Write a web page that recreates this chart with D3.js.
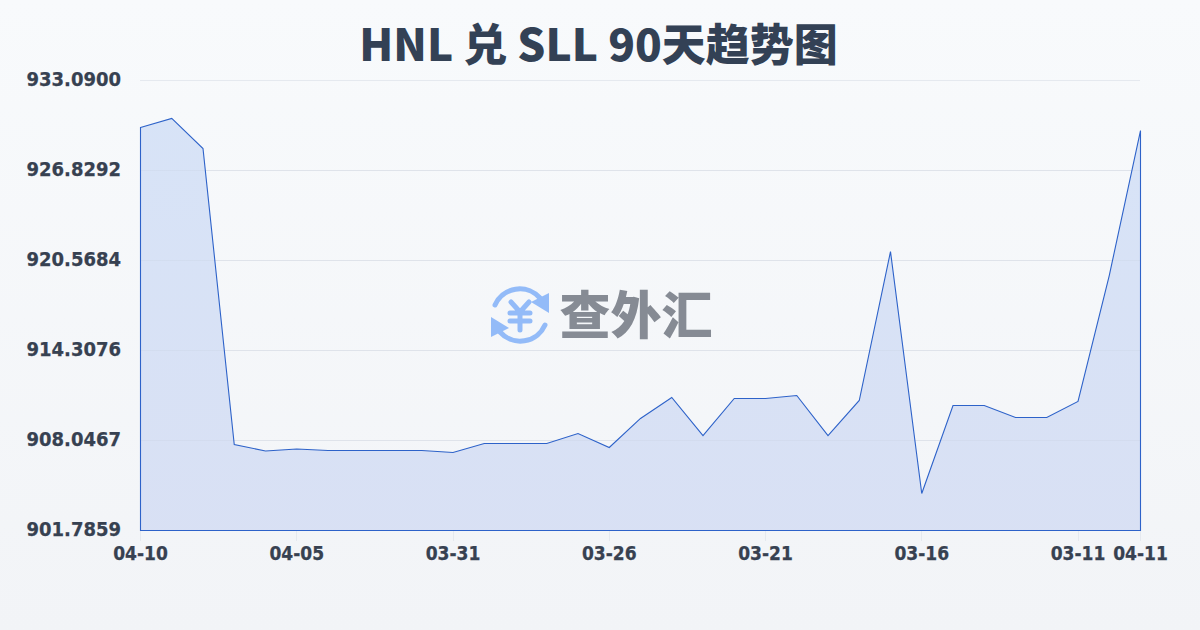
<!DOCTYPE html>
<html><head><meta charset="utf-8">
<script src="https://cdnjs.cloudflare.com/ajax/libs/d3/7.8.5/d3.min.js"></script>
<style>html,body{margin:0;padding:0;background:#f8fafc}svg{display:block}</style>
</head><body><svg id="c" width="1200" height="630"></svg>
<script>
const titleText = "HNL 兑 SLL 90天趋势图";
const watermarkText = "查外汇";
const values = [929.82,930.45,928.36,907.77,907.32,907.46,907.35,907.35,907.35,907.35,907.21,907.84,907.84,907.84,908.53,907.56,909.58,911.04,908.39,910.97,910.97,911.18,908.39,910.83,921.19,904.36,910.48,910.48,909.65,909.65,910.76,919.52,929.61];
const xTickIndex = [0,5,10,15,20,25,30,32];
const xTickLabels = ["04-10","04-05","03-31","03-26","03-21","03-16","03-11","04-11"];
const yTicks = [901.7859,908.0467,914.3076,920.5684,926.8292,933.09];
const yTickLabels = ["901.7859","908.0467","914.3076","920.5684","926.8292","933.0900"];

const svg = d3.select("#c");
const defs = svg.append("defs");
const bg = defs.append("linearGradient").attr("id","bg").attr("x1",0).attr("y1",0).attr("x2",0).attr("y2",1);
bg.append("stop").attr("offset",0).attr("stop-color","#f8fafc");
bg.append("stop").attr("offset",1).attr("stop-color","#f2f4f7");
const ag = defs.append("linearGradient").attr("id","ag").attr("gradientUnits","userSpaceOnUse").attr("x1",0).attr("y1",118).attr("x2",0).attr("y2",530);
ag.append("stop").attr("offset",0).attr("stop-color","#d7e3f7");
ag.append("stop").attr("offset",1).attr("stop-color","#d8e0f4");
svg.append("rect").attr("width",1200).attr("height",630).attr("fill","url(#bg)");

const x = d3.scaleLinear().domain([0,values.length-1]).range([140.5,1140.5]);
const y = d3.scaleLinear().domain([901.7859,933.09]).range([530.5,80.5]);
const ink = "#374151";
const font = "'DejaVu Sans Condensed','DejaVu Sans',sans-serif";

svg.append("g").selectAll("line").data(yTicks).join("line")
  .attr("x1",140).attr("x2",1140).attr("y1",d=>Math.floor(y(d))+.5).attr("y2",d=>Math.floor(y(d))+.5)
  .attr("stroke","#e5e9ef").attr("stroke-width",1);

const idx = d3.range(values.length);
svg.append("path").datum(idx)
  .attr("d",d3.area().x(i=>x(i)).y0(y(901.7859)).y1(i=>y(values[i])))
  .attr("fill","url(#ag)").attr("fill-opacity",.98);
svg.append("g").selectAll("line").data(yTicks.slice(1,-1)).join("line")
  .attr("x1",140).attr("x2",1140).attr("y1",d=>Math.floor(y(d))+.5).attr("y2",d=>Math.floor(y(d))+.5)
  .attr("stroke","#94a3b8").attr("stroke-opacity",.08);
svg.append("path").datum(idx)
  .attr("d",d3.line().x(i=>x(i)).y(i=>y(values[i]))(idx)+`L${x(values.length-1)},${y(901.7859)}L${x(0)},${y(901.7859)}Z`)
  .attr("fill","none").attr("stroke","#2d62c9").attr("stroke-width",1.1);

svg.append("g").selectAll("line").data(xTickIndex).join("line")
  .attr("x1",i=>Math.floor(x(i))+.5).attr("x2",i=>Math.floor(x(i))+.5).attr("y1",531).attr("y2",541)
  .attr("stroke","#e5e9ef");
svg.append("g").selectAll("text").data(xTickIndex).join("text")
  .attr("x",i=>x(i)).attr("y",560).attr("text-anchor","middle")
  .attr("font-family",font).attr("font-weight",700).attr("font-size",19).attr("fill",ink)
  .attr("stroke",ink).attr("stroke-width",.25)
  .text((d,i)=>xTickLabels[i]);
svg.append("g").selectAll("text").data(yTicks).join("text")
  .attr("x",121).attr("y",d=>y(d)+5.5).attr("text-anchor","end")
  .attr("font-family",font).attr("font-weight",700).attr("font-size",20).attr("fill",ink)
  .attr("stroke",ink).attr("stroke-width",.25)
  .text((d,i)=>yTickLabels[i]);

svg.append("text").attr("x",598.5).attr("y",61).attr("text-anchor","middle")
  .attr("font-family","'Noto Sans CJK SC',sans-serif").attr("font-weight",900)
  .attr("font-size",44).attr("fill","#334155").text(titleText);

// watermark logo
const w = svg.append("g").attr("transform","translate(520,315)");
const blue="#93bbf8";
w.append("path").attr("d","M-25,-10A27,27 0 0 1 20,-17").attr("fill","none").attr("stroke",blue).attr("stroke-width",5).attr("stroke-linecap","round");
w.append("path").attr("d","M25,10A27,27 0 0 1 -20,17").attr("fill","none").attr("stroke",blue).attr("stroke-width",5).attr("stroke-linecap","round");
w.append("path").attr("d","M11,-13L29,-22L29,-2Z").attr("fill",blue);
w.append("path").attr("d","M-11,13L-29,22L-29,2Z").attr("fill",blue);
w.append("path").attr("d","M-9,-13L0,-3L9,-13M-10,-2H10M-10,6H10M0,-3V15").attr("fill","none").attr("stroke",blue).attr("stroke-width",5).attr("stroke-linecap","round").attr("stroke-linejoin","round");
svg.append("text").attr("x",636).attr("y",334).attr("text-anchor","middle")
  .attr("font-family","'Noto Sans CJK SC',sans-serif").attr("font-weight",900)
  .attr("font-size",51).attr("fill","#868b94").text(watermarkText);
</script></body></html>
